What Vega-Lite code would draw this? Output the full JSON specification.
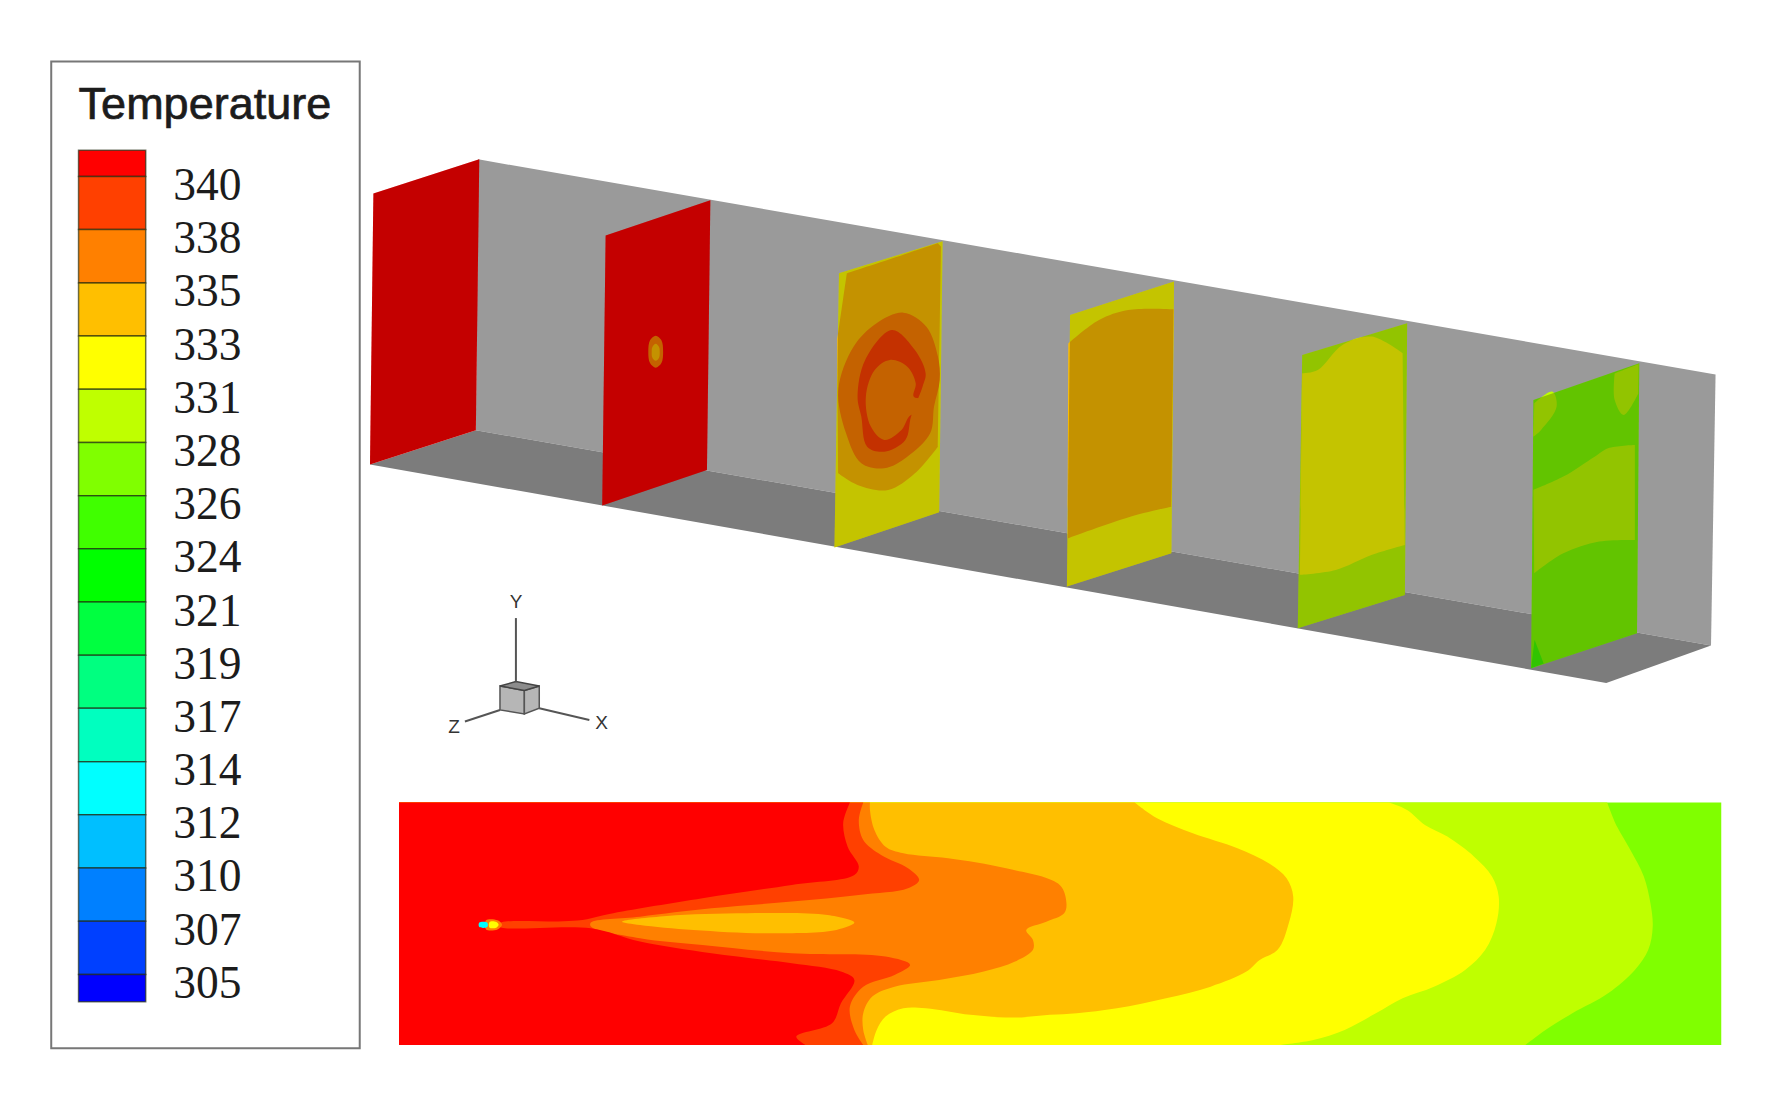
{
"$schema":"https://vega.github.io/schema/vega-lite/v6.json",
"width":1785,"height":1095,"padding":0,"autosize":"none","background":"white",
"config":{"view":{"stroke":null}},
"datasets":{
"walls":[
{"p":"wall","i":0,"x":420,"y":140},{"p":"wall","i":1,"x":1507,"y":329},{"p":"wall","i":2,"x":1503,"y":567},{"p":"wall","i":3,"x":418,"y":378}],
"floor":[
{"p":"floor","i":0,"x":325,"y":408},{"p":"floor","i":1,"x":418,"y":378},{"p":"floor","i":2,"x":1503,"y":567},{"p":"floor","i":3,"x":1411,"y":600}],
"outlines":[
{"p":"s1","i":0,"x":328,"y":170},{"p":"s1","i":1,"x":421,"y":140},{"p":"s1","i":2,"x":418,"y":378},{"p":"s1","i":3,"x":325,"y":408},
{"p":"s2","i":0,"x":532,"y":207},{"p":"s2","i":1,"x":624,"y":176},{"p":"s2","i":2,"x":621,"y":413},{"p":"s2","i":3,"x":529,"y":444},
{"p":"s3","i":0,"x":737,"y":240},{"p":"s3","i":1,"x":828,"y":212},{"p":"s3","i":2,"x":825,"y":450},{"p":"s3","i":3,"x":733,"y":481},
{"p":"s4","i":0,"x":940,"y":276.7},{"p":"s4","i":1,"x":1031.3,"y":247.4},{"p":"s4","i":2,"x":1029,"y":486},{"p":"s4","i":3,"x":937.2,"y":515.3},
{"p":"s5","i":0,"x":1143.9,"y":311.8},{"p":"s5","i":1,"x":1236.1,"y":284},{"p":"s5","i":2,"x":1234.1,"y":522.7},{"p":"s5","i":3,"x":1140,"y":551.9},
{"p":"s6","i":0,"x":1347,"y":351.4},{"p":"s6","i":1,"x":1440,"y":319.2},{"p":"s6","i":2,"x":1438,"y":556.3},{"p":"s6","i":3,"x":1345,"y":587.1}],
"bases":[
{"p":"a01","t":327,"i":0,"x":350.5,"y":705},{"p":"a01","t":327,"i":1,"x":1512,"y":705},{"p":"a01","t":327,"i":2,"x":1512,"y":918},{"p":"a01","t":327,"i":3,"x":350.5,"y":918},
{"p":"b01","t":341,"i":0,"x":328,"y":170},{"p":"b01","t":341,"i":1,"x":421,"y":140},{"p":"b01","t":341,"i":2,"x":418,"y":378},{"p":"b01","t":341,"i":3,"x":325,"y":408},
{"p":"b02","t":341,"i":0,"x":532,"y":207},{"p":"b02","t":341,"i":1,"x":624,"y":176},{"p":"b02","t":341,"i":2,"x":621,"y":413},{"p":"b02","t":341,"i":3,"x":529,"y":444},
{"p":"c01","t":332,"i":0,"x":737,"y":240},{"p":"c01","t":332,"i":1,"x":828,"y":212},{"p":"c01","t":332,"i":2,"x":825,"y":450},{"p":"c01","t":332,"i":3,"x":733,"y":481},
{"p":"d01","t":332,"i":0,"x":940,"y":276.7},{"p":"d01","t":332,"i":1,"x":1031.3,"y":247.4},{"p":"d01","t":332,"i":2,"x":1029,"y":486},{"p":"d01","t":332,"i":3,"x":937.2,"y":515.3},
{"p":"e01","t":329.5,"i":0,"x":1143.9,"y":311.8},{"p":"e01","t":329.5,"i":1,"x":1236.1,"y":284},{"p":"e01","t":329.5,"i":2,"x":1234.1,"y":522.7},{"p":"e01","t":329.5,"i":3,"x":1140,"y":551.9},
{"p":"f01","t":327,"i":0,"x":1347,"y":351.4},{"p":"f01","t":327,"i":1,"x":1440,"y":319.2},{"p":"f01","t":327,"i":2,"x":1438,"y":556.3},{"p":"f01","t":327,"i":3,"x":1345,"y":587.1},
{"p":"f05","t":325,"i":0,"x":1345,"y":587.1},{"p":"f05","t":325,"i":1,"x":1348,"y":562},{"p":"f05","t":325,"i":2,"x":1356,"y":583}],
"contours":[
{"p":"a02","t":329.5,"i":0,"x":350.5,"y":705},{"p":"a02","t":329.5,"i":0.5,"x":350.5,"y":705},{"p":"a02","t":329.5,"i":1,"x":1411.8,"y":705},{"p":"a02","t":329.5,"i":1.5,"x":1411.8,"y":705},{"p":"a02","t":329.5,"i":2,"x":1420.4,"y":726.2},{"p":"a02","t":329.5,"i":3,"x":1432.2,"y":746.7},{"p":"a02","t":329.5,"i":4,"x":1444,"y":770.1},{"p":"a02","t":329.5,"i":5,"x":1449.8,"y":793.6},{"p":"a02","t":329.5,"i":6,"x":1451.8,"y":814},{"p":"a02","t":329.5,"i":7,"x":1447.9,"y":834.5},{"p":"a02","t":329.5,"i":8,"x":1436.1,"y":852.1},{"p":"a02","t":329.5,"i":9,"x":1412.6,"y":872.6},{"p":"a02","t":329.5,"i":10,"x":1381.2,"y":890.2},{"p":"a02","t":329.5,"i":11,"x":1357.6,"y":904.8},{"p":"a02","t":329.5,"i":12,"x":1340,"y":918},{"p":"a02","t":329.5,"i":12.5,"x":1340,"y":918},{"p":"a02","t":329.5,"i":13,"x":350.5,"y":918},{"p":"a02","t":329.5,"i":13.5,"x":350.5,"y":918},
{"p":"a03","t":332,"i":0,"x":350.5,"y":705},{"p":"a03","t":332,"i":0.5,"x":350.5,"y":705},{"p":"a03","t":332,"i":1,"x":1220.4,"y":705},{"p":"a03","t":332,"i":1.5,"x":1220.4,"y":705},{"p":"a03","t":332,"i":2,"x":1236,"y":711.6},{"p":"a03","t":332,"i":3,"x":1251.7,"y":724.7},{"p":"a03","t":332,"i":4,"x":1271.4,"y":735},{"p":"a03","t":332,"i":5,"x":1294.9,"y":752.6},{"p":"a03","t":332,"i":6,"x":1310.6,"y":770},{"p":"a03","t":332,"i":7,"x":1316.5,"y":787.7},{"p":"a03","t":332,"i":8,"x":1314.5,"y":811.1},{"p":"a03","t":332,"i":9,"x":1304.7,"y":834.5},{"p":"a03","t":332,"i":10,"x":1287,"y":852.1},{"p":"a03","t":332,"i":11,"x":1259.6,"y":866.8},{"p":"a03","t":332,"i":12,"x":1232.1,"y":877},{"p":"a03","t":332,"i":13,"x":1208.6,"y":890.2},{"p":"a03","t":332,"i":14,"x":1181.2,"y":904.8},{"p":"a03","t":332,"i":15,"x":1153.7,"y":913.6},{"p":"a03","t":332,"i":16,"x":1124.3,"y":918},{"p":"a03","t":332,"i":16.5,"x":1124.3,"y":918},{"p":"a03","t":332,"i":17,"x":350.5,"y":918},{"p":"a03","t":332,"i":17.5,"x":350.5,"y":918},
{"p":"a04","t":334,"i":0,"x":350.5,"y":705},{"p":"a04","t":334,"i":0.5,"x":350.5,"y":705},{"p":"a04","t":334,"i":1,"x":996.8,"y":705},{"p":"a04","t":334,"i":1.5,"x":996.8,"y":705},{"p":"a04","t":334,"i":2,"x":1016.4,"y":718.9},{"p":"a04","t":334,"i":3,"x":1047.8,"y":732.1},{"p":"a04","t":334,"i":4,"x":1087,"y":745.2},{"p":"a04","t":334,"i":5,"x":1114.5,"y":758.4},{"p":"a04","t":334,"i":6,"x":1130.2,"y":771.6},{"p":"a04","t":334,"i":7,"x":1136,"y":787.7},{"p":"a04","t":334,"i":8,"x":1132.1,"y":811.1},{"p":"a04","t":334,"i":9,"x":1122.3,"y":834.5},{"p":"a04","t":334,"i":10,"x":1106.6,"y":843.3},{"p":"a04","t":334,"i":11,"x":1094.9,"y":853.6},{"p":"a04","t":334,"i":12,"x":1063.5,"y":866.8},{"p":"a04","t":334,"i":13,"x":1024.3,"y":877},{"p":"a04","t":334,"i":14,"x":981.1,"y":885.8},{"p":"a04","t":334,"i":15,"x":945.8,"y":890.2},{"p":"a04","t":334,"i":16,"x":922.3,"y":891.6},{"p":"a04","t":334,"i":17,"x":891.7,"y":894},{"p":"a04","t":334,"i":18,"x":852.5,"y":891.6},{"p":"a04","t":334,"i":19,"x":813.2,"y":885.8},{"p":"a04","t":334,"i":20,"x":793.6,"y":885.8},{"p":"a04","t":334,"i":21,"x":777.9,"y":893.1},{"p":"a04","t":334,"i":22,"x":770.1,"y":904.8},{"p":"a04","t":334,"i":23,"x":766.2,"y":918},{"p":"a04","t":334,"i":23.5,"x":766.2,"y":918},{"p":"a04","t":334,"i":24,"x":350.5,"y":918},{"p":"a04","t":334,"i":24.5,"x":350.5,"y":918},
{"p":"a05","t":336.5,"i":0,"x":350.5,"y":705},{"p":"a05","t":336.5,"i":0.5,"x":350.5,"y":705},{"p":"a05","t":336.5,"i":1,"x":764.2,"y":705},{"p":"a05","t":336.5,"i":1.5,"x":764.2,"y":705},{"p":"a05","t":336.5,"i":2,"x":764.2,"y":711.6},{"p":"a05","t":336.5,"i":3,"x":768.1,"y":729.1},{"p":"a05","t":336.5,"i":4,"x":777.9,"y":743.8},{"p":"a05","t":336.5,"i":5,"x":793.6,"y":749.6},{"p":"a05","t":336.5,"i":6,"x":832.9,"y":754},{"p":"a05","t":336.5,"i":7,"x":883.8,"y":762.8},{"p":"a05","t":336.5,"i":8,"x":930.9,"y":777.4},{"p":"a05","t":336.5,"i":9,"x":936.8,"y":793.6},{"p":"a05","t":336.5,"i":10,"x":934.8,"y":802.3},{"p":"a05","t":336.5,"i":11,"x":919.1,"y":809.7},{"p":"a05","t":336.5,"i":12,"x":901.5,"y":817},{"p":"a05","t":336.5,"i":13,"x":907.4,"y":825.8},{"p":"a05","t":336.5,"i":14,"x":907.4,"y":834.5},{"p":"a05","t":336.5,"i":15,"x":891.7,"y":844.8},{"p":"a05","t":336.5,"i":16,"x":864.2,"y":853.6},{"p":"a05","t":336.5,"i":17,"x":825,"y":860.9},{"p":"a05","t":336.5,"i":18,"x":785.8,"y":866.8},{"p":"a05","t":336.5,"i":19,"x":766.2,"y":875.5},{"p":"a05","t":336.5,"i":20,"x":758.3,"y":890.2},{"p":"a05","t":336.5,"i":21,"x":758.3,"y":904.8},{"p":"a05","t":336.5,"i":22,"x":762.3,"y":918},{"p":"a05","t":336.5,"i":22.5,"x":762.3,"y":918},{"p":"a05","t":336.5,"i":23,"x":350.5,"y":918},{"p":"a05","t":336.5,"i":23.5,"x":350.5,"y":918},
{"p":"a06","t":339,"i":0,"x":350.5,"y":705},{"p":"a06","t":339,"i":0.5,"x":350.5,"y":705},{"p":"a06","t":339,"i":1,"x":758.3,"y":705},{"p":"a06","t":339,"i":1.5,"x":758.3,"y":705},{"p":"a06","t":339,"i":2,"x":754.4,"y":720.4},{"p":"a06","t":339,"i":3,"x":758.3,"y":737.9},{"p":"a06","t":339,"i":4,"x":774,"y":751.1},{"p":"a06","t":339,"i":5,"x":797.6,"y":762.8},{"p":"a06","t":339,"i":6,"x":807.4,"y":773.1},{"p":"a06","t":339,"i":7,"x":797.6,"y":780.4},{"p":"a06","t":339,"i":8,"x":754.4,"y":786.2},{"p":"a06","t":339,"i":9,"x":695.6,"y":792.1},{"p":"a06","t":339,"i":10,"x":625,"y":798},{"p":"a06","t":339,"i":11,"x":562.2,"y":805.3},{"p":"a06","t":339,"i":12,"x":519,"y":810.5},{"p":"a06","t":339,"i":13,"x":519,"y":814},{"p":"a06","t":339,"i":14,"x":562.2,"y":824.3},{"p":"a06","t":339,"i":15,"x":617.1,"y":830.2},{"p":"a06","t":339,"i":16,"x":695.6,"y":837.5},{"p":"a06","t":339,"i":17,"x":777.9,"y":840.4},{"p":"a06","t":339,"i":18,"x":799.5,"y":847.7},{"p":"a06","t":339,"i":19,"x":785.8,"y":856.5},{"p":"a06","t":339,"i":20,"x":758.3,"y":866.8},{"p":"a06","t":339,"i":21,"x":746.6,"y":884.3},{"p":"a06","t":339,"i":22,"x":750.5,"y":904.8},{"p":"a06","t":339,"i":23,"x":758.3,"y":918},{"p":"a06","t":339,"i":23.5,"x":758.3,"y":918},{"p":"a06","t":339,"i":24,"x":350.5,"y":918},{"p":"a06","t":339,"i":24.5,"x":350.5,"y":918},
{"p":"a07","t":334,"i":0,"x":546.5,"y":809.7},{"p":"a07","t":334,"i":1,"x":585.8,"y":804.7},{"p":"a07","t":334,"i":2,"x":656.4,"y":802.3},{"p":"a07","t":334,"i":3,"x":726.8,"y":803.8},{"p":"a07","t":334,"i":4,"x":750.5,"y":810.5},{"p":"a07","t":334,"i":5,"x":734.8,"y":817},{"p":"a07","t":334,"i":6,"x":676,"y":819.9},{"p":"a07","t":334,"i":7,"x":609.3,"y":817},{"p":"a07","t":334,"i":8,"x":562.2,"y":812.6},
{"p":"a08","t":341,"i":0,"x":350.5,"y":705},{"p":"a08","t":341,"i":0.5,"x":350.5,"y":705},{"p":"a08","t":341,"i":1,"x":746.6,"y":705},{"p":"a08","t":341,"i":1.5,"x":746.6,"y":705},{"p":"a08","t":341,"i":2,"x":740.7,"y":723.3},{"p":"a08","t":341,"i":3,"x":744.6,"y":743.8},{"p":"a08","t":341,"i":4,"x":754.4,"y":761.3},{"p":"a08","t":341,"i":5,"x":750.5,"y":768.7},{"p":"a08","t":341,"i":6,"x":695.6,"y":777.4},{"p":"a08","t":341,"i":7,"x":617.1,"y":789.2},{"p":"a08","t":341,"i":8,"x":538.7,"y":802.3},{"p":"a08","t":341,"i":9,"x":507.3,"y":808.8},{"p":"a08","t":341,"i":10,"x":440.7,"y":810.2},{"p":"a08","t":341,"i":11,"x":436.7,"y":813},{"p":"a08","t":341,"i":11.5,"x":436.7,"y":813},{"p":"a08","t":341,"i":12,"x":350.5,"y":813},{"p":"a08","t":341,"i":12.5,"x":350.5,"y":813},
{"p":"a09","t":341,"i":0,"x":350.5,"y":812.6},{"p":"a09","t":341,"i":0.5,"x":350.5,"y":812.6},{"p":"a09","t":341,"i":1,"x":436.7,"y":812.6},{"p":"a09","t":341,"i":1.5,"x":436.7,"y":812.6},{"p":"a09","t":341,"i":2,"x":440.7,"y":815},{"p":"a09","t":341,"i":3,"x":519.1,"y":815.5},{"p":"a09","t":341,"i":4,"x":562.2,"y":827.2},{"p":"a09","t":341,"i":5,"x":625,"y":837.5},{"p":"a09","t":341,"i":6,"x":695.6,"y":846.3},{"p":"a09","t":341,"i":7,"x":738.7,"y":853.6},{"p":"a09","t":341,"i":8,"x":750.5,"y":860.9},{"p":"a09","t":341,"i":9,"x":738.7,"y":881.4},{"p":"a09","t":341,"i":10,"x":730.9,"y":899},{"p":"a09","t":341,"i":11,"x":699.5,"y":910.7},{"p":"a09","t":341,"i":12,"x":707.3,"y":918},{"p":"a09","t":341,"i":12.5,"x":707.3,"y":918},{"p":"a09","t":341,"i":13,"x":350.5,"y":918},{"p":"a09","t":341,"i":13.5,"x":350.5,"y":918},
{"p":"a10","t":336.5,"i":0,"x":427,"y":808.5},{"p":"a10","t":336.5,"i":1,"x":437,"y":808.5},{"p":"a10","t":336.5,"i":2,"x":441,"y":812.5},{"p":"a10","t":336.5,"i":3,"x":437,"y":816.5},{"p":"a10","t":336.5,"i":4,"x":427,"y":816.5},
{"p":"a11","t":313,"i":0,"x":421,"y":810.5},{"p":"a11","t":313,"i":1,"x":428,"y":810.5},{"p":"a11","t":313,"i":2,"x":428,"y":814.5},{"p":"a11","t":313,"i":3,"x":421,"y":814.5},
{"p":"a12","t":332,"i":0,"x":430,"y":810},{"p":"a12","t":332,"i":1,"x":436,"y":810},{"p":"a12","t":332,"i":2,"x":438,"y":812.5},{"p":"a12","t":332,"i":3,"x":436,"y":815},{"p":"a12","t":332,"i":4,"x":430,"y":815},
{"p":"b03","t":336.5,"i":0,"x":576,"y":295},{"p":"b03","t":336.5,"i":1,"x":581,"y":299},{"p":"b03","t":336.5,"i":2,"x":582.5,"y":309},{"p":"b03","t":336.5,"i":3,"x":581,"y":319},{"p":"b03","t":336.5,"i":4,"x":576,"y":323},{"p":"b03","t":336.5,"i":5,"x":571,"y":319},{"p":"b03","t":336.5,"i":6,"x":569.5,"y":309},{"p":"b03","t":336.5,"i":7,"x":571,"y":299},
{"p":"b04","t":334,"i":0,"x":576,"y":302},{"p":"b04","t":334,"i":1,"x":579,"y":305},{"p":"b04","t":334,"i":2,"x":579.5,"y":309},{"p":"b04","t":334,"i":3,"x":579,"y":314},{"p":"b04","t":334,"i":4,"x":576,"y":317},{"p":"b04","t":334,"i":5,"x":573,"y":314},{"p":"b04","t":334,"i":6,"x":572.5,"y":309},{"p":"b04","t":334,"i":7,"x":573,"y":305},
{"p":"c02","t":334,"i":0,"x":743.9,"y":240.1},{"p":"c02","t":334,"i":0.5,"x":743.9,"y":240.1},{"p":"c02","t":334,"i":1,"x":823.9,"y":213.8},{"p":"c02","t":334,"i":1.5,"x":823.9,"y":213.8},{"p":"c02","t":334,"i":2,"x":826.6,"y":216.7},{"p":"c02","t":334,"i":2.5,"x":826.6,"y":216.7},{"p":"c02","t":334,"i":3,"x":823.9,"y":392.4},{"p":"c02","t":334,"i":3.5,"x":823.9,"y":392.4},{"p":"c02","t":334,"i":4,"x":803.7,"y":415.8},{"p":"c02","t":334,"i":5,"x":780.2,"y":430.4},{"p":"c02","t":334,"i":6,"x":753.3,"y":426},{"p":"c02","t":334,"i":7,"x":736.4,"y":415.8},{"p":"c02","t":334,"i":7.5,"x":736.4,"y":415.8},{"p":"c02","t":334,"i":8,"x":735.5,"y":298.7},{"p":"c02","t":334,"i":8.5,"x":735.5,"y":298.7},
{"p":"c03","t":336.5,"i":0,"x":736.4,"y":342.6},{"p":"c03","t":336.5,"i":1,"x":749.9,"y":304.5},{"p":"c03","t":336.5,"i":2,"x":770,"y":284},{"p":"c03","t":336.5,"i":3,"x":793.6,"y":274.7},{"p":"c03","t":336.5,"i":4,"x":813.8,"y":287},{"p":"c03","t":336.5,"i":5,"x":823.9,"y":313.3},{"p":"c03","t":336.5,"i":6,"x":825.5,"y":333.8},{"p":"c03","t":336.5,"i":7,"x":820.5,"y":357.2},{"p":"c03","t":336.5,"i":8,"x":817.1,"y":380.7},{"p":"c03","t":336.5,"i":9,"x":797,"y":401.2},{"p":"c03","t":336.5,"i":10,"x":776.8,"y":411.4},{"p":"c03","t":336.5,"i":11,"x":756.6,"y":407},{"p":"c03","t":336.5,"i":12,"x":743.2,"y":380.7},
{"p":"c04","t":339,"i":0,"x":753.3,"y":348.5},{"p":"c04","t":339,"i":1,"x":760,"y":316.2},{"p":"c04","t":339,"i":2,"x":783.5,"y":289.9},{"p":"c04","t":339,"i":3,"x":803.7,"y":307.5},{"p":"c04","t":339,"i":4,"x":813.1,"y":328},{"p":"c04","t":339,"i":5,"x":810.4,"y":339.7},{"p":"c04","t":339,"i":6,"x":800.3,"y":366},{"p":"c04","t":339,"i":7,"x":795.3,"y":386.5},{"p":"c04","t":339,"i":8,"x":776.8,"y":396.8},{"p":"c04","t":339,"i":9,"x":761.7,"y":392.4},{"p":"c04","t":339,"i":10,"x":756.6,"y":366},
{"p":"c05","t":336.5,"i":0,"x":760.6,"y":348.5},{"p":"c05","t":336.5,"i":1,"x":768.4,"y":325},{"p":"c05","t":336.5,"i":2,"x":781.8,"y":316.2},{"p":"c05","t":336.5,"i":3,"x":797,"y":322.1},{"p":"c05","t":336.5,"i":4,"x":804.4,"y":336.7},{"p":"c05","t":336.5,"i":5,"x":802.7,"y":348.5},{"p":"c05","t":336.5,"i":6,"x":817.1,"y":351.4},{"p":"c05","t":336.5,"i":7,"x":813.8,"y":369},{"p":"c05","t":336.5,"i":8,"x":800.3,"y":364.6},{"p":"c05","t":336.5,"i":9,"x":791.9,"y":377.7},{"p":"c05","t":336.5,"i":10,"x":776.8,"y":386.5},{"p":"c05","t":336.5,"i":11,"x":765,"y":374.8},
{"p":"d02","t":334,"i":0,"x":938.5,"y":301.6},{"p":"d02","t":334,"i":0.5,"x":938.5,"y":301.6},{"p":"d02","t":334,"i":1,"x":965.4,"y":281.1},{"p":"d02","t":334,"i":2,"x":991,"y":272.3},{"p":"d02","t":334,"i":3,"x":1031,"y":271.7},{"p":"d02","t":334,"i":3.5,"x":1031,"y":271.7},{"p":"d02","t":334,"i":4,"x":1029,"y":445.1},{"p":"d02","t":334,"i":4.5,"x":1029,"y":445.1},{"p":"d02","t":334,"i":5,"x":992.9,"y":453.9},{"p":"d02","t":334,"i":6,"x":938,"y":472.9},{"p":"d02","t":334,"i":6.5,"x":938,"y":472.9},
{"p":"e02","t":332,"i":0,"x":1143.9,"y":328},{"p":"e02","t":332,"i":0.5,"x":1143.9,"y":328},{"p":"e02","t":332,"i":1,"x":1157.6,"y":325},{"p":"e02","t":332,"i":2,"x":1179.2,"y":303},{"p":"e02","t":332,"i":3,"x":1204.7,"y":295.7},{"p":"e02","t":332,"i":4,"x":1232.1,"y":310.4},{"p":"e02","t":332,"i":4.5,"x":1232.1,"y":310.4},{"p":"e02","t":332,"i":5,"x":1234.1,"y":478.7},{"p":"e02","t":332,"i":5.5,"x":1234.1,"y":478.7},{"p":"e02","t":332,"i":6,"x":1204.7,"y":487.5},{"p":"e02","t":332,"i":7,"x":1173.3,"y":500.7},{"p":"e02","t":332,"i":8,"x":1141.9,"y":505},{"p":"e02","t":332,"i":8.5,"x":1141.9,"y":505},
{"p":"f02","t":329.5,"i":0,"x":1347,"y":430.4},{"p":"f02","t":329.5,"i":0.5,"x":1347,"y":430.4},{"p":"f02","t":329.5,"i":1,"x":1373.3,"y":418.7},{"p":"f02","t":329.5,"i":2,"x":1400.8,"y":401.2},{"p":"f02","t":329.5,"i":3,"x":1412.6,"y":393.8},{"p":"f02","t":329.5,"i":4,"x":1436.1,"y":390.9},{"p":"f02","t":329.5,"i":4.5,"x":1436.1,"y":390.9},{"p":"f02","t":329.5,"i":5,"x":1436.1,"y":474.4},{"p":"f02","t":329.5,"i":5.5,"x":1436.1,"y":474.4},{"p":"f02","t":329.5,"i":6,"x":1404.7,"y":475.8},{"p":"f02","t":329.5,"i":7,"x":1373.3,"y":486.1},{"p":"f02","t":329.5,"i":8,"x":1347.8,"y":503.6},{"p":"f02","t":329.5,"i":8.5,"x":1347.8,"y":503.6},
{"p":"f03","t":329.5,"i":0,"x":1418.4,"y":328},{"p":"f03","t":329.5,"i":0.5,"x":1418.4,"y":328},{"p":"f03","t":329.5,"i":1,"x":1439.5,"y":319.8},{"p":"f03","t":329.5,"i":1.5,"x":1439.5,"y":319.8},{"p":"f03","t":329.5,"i":2,"x":1439.2,"y":345.5},{"p":"f03","t":329.5,"i":2.5,"x":1439.2,"y":345.5},{"p":"f03","t":329.5,"i":3,"x":1426.3,"y":364.6},{"p":"f03","t":329.5,"i":4,"x":1418.4,"y":351.4},
{"p":"f04","t":329.5,"i":0,"x":1347.8,"y":354.3},{"p":"f04","t":329.5,"i":0.5,"x":1347.8,"y":354.3},{"p":"f04","t":329.5,"i":1,"x":1363.5,"y":344},{"p":"f04","t":329.5,"i":2,"x":1367.4,"y":357.2},{"p":"f04","t":329.5,"i":3,"x":1353.7,"y":377.7},{"p":"f04","t":329.5,"i":4,"x":1347,"y":383.6},{"p":"f04","t":329.5,"i":4.5,"x":1347,"y":383.6}
],
"cube":[
{"p":"l","i":0,"x":439.2,"y":602.6},{"p":"l","i":1,"x":460.6,"y":606.7},{"p":"l","i":2,"x":460.6,"y":627.2},{"p":"l","i":3,"x":439.2,"y":623.7},
{"p":"r","i":0,"x":460.6,"y":606.7},{"p":"r","i":1,"x":473.7,"y":602.6},{"p":"r","i":2,"x":473.7,"y":622.2},{"p":"r","i":3,"x":460.6,"y":627.2}],
"cubeTop":[
{"p":"t","i":0,"x":439.2,"y":602.6},{"p":"t","i":1,"x":453.2,"y":598.8},{"p":"t","i":2,"x":473.7,"y":602.6},{"p":"t","i":3,"x":460.6,"y":606.7}],
"axes3d":[
{"p":"ya","i":0,"x":453.2,"y":543},{"p":"ya","i":1,"x":453.2,"y":598.8},
{"p":"xa","i":0,"x":473.7,"y":622.2},{"p":"xa","i":1,"x":517.7,"y":632.5},
{"p":"za","i":0,"x":439.2,"y":623.7},{"p":"za","i":1,"x":408.4,"y":633.9}],
"axisLabels":[{"label":"Y","x":453.3,"y":529},{"label":"X","x":528.5,"y":635},{"label":"Z","x":398.8,"y":639}],
"bands":[
{"temp":341,"t0":340,"t1":341.15},{"temp":339,"t0":337.67,"t1":340},{"temp":336.5,"t0":335.33,"t1":337.67},{"temp":334,"t0":333,"t1":335.33},{"temp":332,"t0":330.67,"t1":333},{"temp":329.5,"t0":328.33,"t1":330.67},{"temp":327,"t0":326,"t1":328.33},{"temp":325,"t0":323.67,"t1":326},{"temp":322.5,"t0":321.33,"t1":323.67},{"temp":320,"t0":319,"t1":321.33},{"temp":318,"t0":316.67,"t1":319},{"temp":315.5,"t0":314.33,"t1":316.67},{"temp":313,"t0":312,"t1":314.33},{"temp":311,"t0":309.67,"t1":312},{"temp":308.5,"t0":307.33,"t1":309.67},{"temp":306,"t0":305,"t1":307.33},{"temp":304,"t0":303.8,"t1":305}]
},
"resolve":{"scale":{"y":"independent"}},
"layer":[
{"encoding":{
"x":{"field":"x","type":"quantitative","scale":{"domain":[0,1568],"nice":false,"zero":false},"axis":null},
"y":{"field":"y","type":"quantitative","scale":{"domain":[962,0],"nice":false,"zero":false},"axis":null},
"order":{"field":"i"},
"detail":{"field":"p"}},
"layer":[
{"data":{"name":"walls"},"mark":{"type":"line","interpolate":"linear-closed","fill":"#9a9a9a","strokeWidth":0}},
{"data":{"name":"floor"},"mark":{"type":"line","interpolate":"linear-closed","fill":"#7c7c7c","strokeWidth":0}},
{"data":{"name":"bases"},"mark":{"type":"line","interpolate":"linear-closed","strokeWidth":0},
"encoding":{"fill":{"field":"t","type":"quantitative","legend":null,"scale":{"type":"threshold","domain":[305,307,310,312,314,317,319,321,324,326,328,331,333,335,338,340],"range":["#0000ff","#0040ff","#0080ff","#00bfff","#00ffff","#00ffbf","#00ff80","#00ff40","#00ff00","#40ff00","#80ff00","#bfff00","#ffff00","#ffbf00","#ff8000","#ff4000","#ff0000"]}}}},
{"data":{"name":"contours"},"mark":{"type":"line","interpolate":"catmull-rom-closed","strokeWidth":0},
"encoding":{"fill":{"field":"t","type":"quantitative","legend":null,"scale":{"type":"threshold","domain":[305,307,310,312,314,317,319,321,324,326,328,331,333,335,338,340],"range":["#0000ff","#0040ff","#0080ff","#00bfff","#00ffff","#00ffbf","#00ff80","#00ff40","#00ff00","#40ff00","#80ff00","#bfff00","#ffff00","#ffbf00","#ff8000","#ff4000","#ff0000"]}}}},
{"data":{"name":"outlines"},"mark":{"type":"line","interpolate":"linear-closed","fill":"#000000","fillOpacity":0.23,"strokeWidth":0}},
{"data":{"name":"cube"},"mark":{"type":"line","interpolate":"linear-closed","fill":"#b6b6b6","stroke":"#555555","strokeWidth":1.5}},
{"data":{"name":"cubeTop"},"mark":{"type":"line","interpolate":"linear-closed","fill":"#8c8c8c","stroke":"#444444","strokeWidth":1.5}},
{"data":{"name":"axes3d"},"mark":{"type":"line","stroke":"#555555","strokeWidth":2}},
{"data":{"name":"axisLabels"},"mark":{"type":"text","font":"Liberation Sans","fontSize":19,"color":"#333333","align":"center","baseline":"middle"},"encoding":{"text":{"field":"label"},"order":null,"detail":null}},
{"data":{"values":[{"title":"Temperature","x":180,"y":92}]},"mark":{"type":"text","font":"Liberation Sans","fontSize":45,"color":"#1c1c1c","stroke":"#1c1c1c","strokeWidth":0.7,"align":"center","baseline":"middle"},"encoding":{"text":{"field":"title"},"order":null,"detail":null}},
{"data":{"values":[{"x":45,"x2":316,"y":54,"y2":921}]},"mark":{"type":"rect","fill":"transparent","stroke":"#777777","strokeWidth":2},"encoding":{"x2":{"field":"x2"},"y2":{"field":"y2"},"order":null,"detail":null}}
]},
{"data":{"name":"bands"},"mark":{"type":"rect","stroke":"#1f2a10","strokeWidth":1.5,"strokeOpacity":0.65},
"encoding":{
"x":{"datum":69,"type":"quantitative","axis":null},
"x2":{"datum":128},
"y":{"field":"t1","type":"quantitative","scale":{"domain":[299.71,347.74],"nice":false,"zero":false},
"axis":{"orient":"left","offset":-245,"values":[305,307.33,309.67,312,314.33,316.67,319,321.33,323.67,326,328.33,330.67,333,335.33,337.67,340],"format":".0f","title":null,"grid":false,"domain":false,"ticks":false,"labelPadding":4,"labelFont":"Liberation Serif","labelFontSize":45.5,"labelColor":"#1c1c1c","labelOffset":9}},
"y2":{"field":"t0"},
"fill":{"field":"temp","type":"quantitative","legend":null,"scale":{"type":"threshold","domain":[305,307,310,312,314,317,319,321,324,326,328,331,333,335,338,340],"range":["#0000ff","#0040ff","#0080ff","#00bfff","#00ffff","#00ffbf","#00ff80","#00ff40","#00ff00","#40ff00","#80ff00","#bfff00","#ffff00","#ffbf00","#ff8000","#ff4000","#ff0000"]}}}}
]
}
